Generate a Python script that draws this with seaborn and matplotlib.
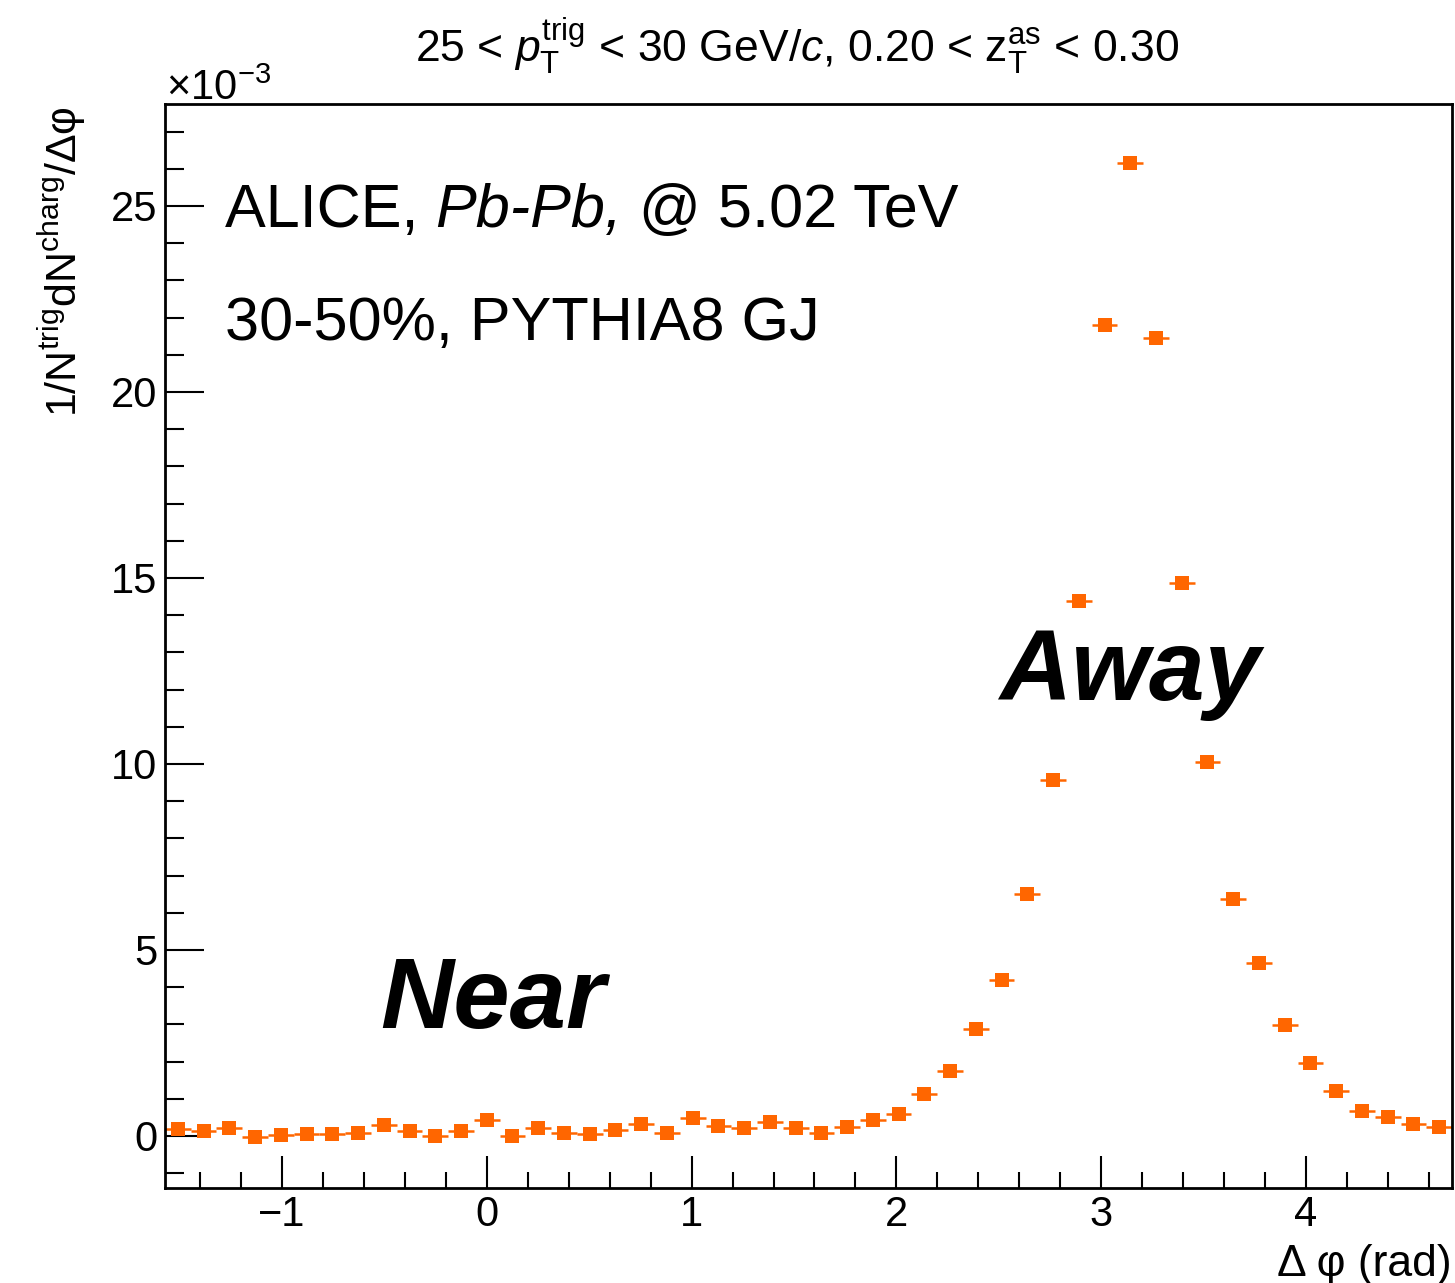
import numpy as np
import pandas as pd
import matplotlib
matplotlib.use("Agg")
import matplotlib.pyplot as plt
import seaborn as sns

# Azimuthal correlation binning: 50 bins over [-pi/2, 3pi/2)
n_bins = 50
phi_low = -np.pi / 2
phi_high = 3 * np.pi / 2

# Per-trigger associated charged-hadron yield, in units of 1e-3
yield_e3 = [
    0.19, 0.14, 0.22, -0.02, 0.03, 0.06, 0.06, 0.09, 0.30, 0.12,
    0.01, 0.14, 0.44, 0.01, 0.20, 0.08, 0.05, 0.17, 0.33, 0.09,
    0.47, 0.28, 0.20, 0.38, 0.22, 0.09, 0.25, 0.44, 0.60, 1.14,
    1.75, 2.88, 4.20, 6.49, 9.58, 14.39, 21.80, 26.16, 21.46, 14.87,
    10.04, 6.38, 4.66, 2.99, 1.97, 1.22, 0.68, 0.52, 0.33, 0.25,
]

x_major_ticks = [-1, 0, 1, 2, 3, 4]
y_major_ticks = [0, 5, 10, 15, 20, 25]

title_text = (r"25 < $p_{\mathrm{T}}^{\mathrm{trig}}$ < 30 GeV/$c$, "
              r"0.20 < $\mathrm{z}_{\mathrm{T}}^{\mathrm{as}}$ < 0.30")
ylabel_text = r"$1/\mathrm{N}^{\mathrm{trig}}\mathrm{dN}^{\mathrm{charg}}/\mathrm{Δφ}$"
xlabel_text = "Δ φ (rad)"

edges = np.linspace(phi_low, phi_high, n_bins + 1)
centers = 0.5 * (edges[:-1] + edges[1:])
half_width = 0.5 * (edges[1] - edges[0])
df = pd.DataFrame({"dphi": centers, "yield": yield_e3})

sns.set_theme(style="ticks")
plt.rcParams["font.family"] = ["Liberation Sans", "DejaVu Sans"]
plt.rcParams["mathtext.fontset"] = "custom"
plt.rcParams["mathtext.rm"] = "Liberation Sans"
plt.rcParams["mathtext.it"] = "Liberation Sans:italic"
plt.rcParams["mathtext.bf"] = "Liberation Sans:bold"
plt.rcParams["axes.unicode_minus"] = True
for key in ("text.color", "axes.labelcolor", "xtick.color", "ytick.color",
            "axes.edgecolor"):
    plt.rcParams[key] = "black"

orange = "#ff6600"
W, H = 1455, 1283
fig = plt.figure(figsize=(W / 100, H / 100), dpi=100)
fig.patch.set_facecolor("white")

left_px, right_px, top_px, bottom_px = 165, 1452, 104, 1188
ax = fig.add_axes([left_px / W, 1 - bottom_px / H,
                   (right_px - left_px) / W, (bottom_px - top_px) / H])
ax.set_facecolor("white")

ax.errorbar(df["dphi"], df["yield"], xerr=half_width, fmt="none",
            ecolor=orange, elinewidth=1.8, capsize=0, zorder=2)
sns.scatterplot(data=df, x="dphi", y="yield", marker="s", s=100,
                color=orange, linewidth=0, ax=ax, zorder=3, legend=False)

ax.set_xlim(phi_low, phi_high)
ax.set_ylim(-1.40, 27.74)

ax.set_xticks(x_major_ticks)
ax.set_yticks(y_major_ticks)
ax.set_xticks(np.arange(-1.4, 4.71, 0.2), minor=True)
ax.set_yticks(np.arange(-1, 28, 1), minor=True)

ax.tick_params(axis="both", which="both", direction="in", colors="black",
               labelcolor="black", top=False, right=False, labelsize=30)
ax.tick_params(axis="y", which="major", length=28, width=1.5, pad=5.5)
ax.tick_params(axis="y", which="minor", length=13.5, width=1.5)
ax.tick_params(axis="x", which="major", length=23, width=1.5, pad=5)
ax.tick_params(axis="x", which="minor", length=11.5, width=1.5)

for sp in ax.spines.values():
    sp.set_visible(True)
    sp.set_linewidth(2.0)
    sp.set_color("black")

ax.set_xlabel(xlabel_text, fontsize=32, color="black")
ax.xaxis.set_label_coords(1.0, (bottom_px - 1276) / (bottom_px - top_px))
ax.xaxis.label.set_ha("right")
ax.xaxis.label.set_va("baseline")

ax.set_ylabel(ylabel_text, fontsize=31, color="black")
ax.yaxis.label.set_rotation_mode("default")
ax.yaxis.set_label_coords((62 - left_px) / (right_px - left_px),
                          1 - (106 - top_px) / (bottom_px - top_px))
ax.yaxis.label.set_ha("center")
ax.yaxis.label.set_va("top")

fig.text(797.5 / W, 1 - 62 / H, title_text, ha="center", va="baseline",
         fontsize=32, color="black")
fig.text(166 / W, 1 - 100 / H, r"$\times10^{-3}$", ha="left",
         va="baseline", fontsize=30, color="black")

# Plot annotations
t1 = ax.text(-1.28, 24.44, "ALICE, ", fontsize=44, ha="left",
             va="baseline", color="black")
t2 = ax.annotate("Pb-Pb,", xy=(1, 0), xycoords=t1, fontsize=44,
                 style="italic", ha="left", va="bottom", color="black")
ax.annotate(" @ 5.02 TeV", xy=(1, 0), xycoords=t2, fontsize=44,
            ha="left", va="bottom", color="black")
ax.text(-1.28, 21.40, "30-50%, PYTHIA8 GJ", fontsize=44, ha="left",
        va="baseline", color="black")

ax.text(-0.52, 2.90, "Near", fontsize=73, weight="bold", style="italic",
        ha="left", va="baseline", color="black")
ax.text(2.50, 11.72, "Away", fontsize=72, weight="bold", style="italic",
        ha="left", va="baseline", color="black")

fig.savefig("out.png", dpi=100)
